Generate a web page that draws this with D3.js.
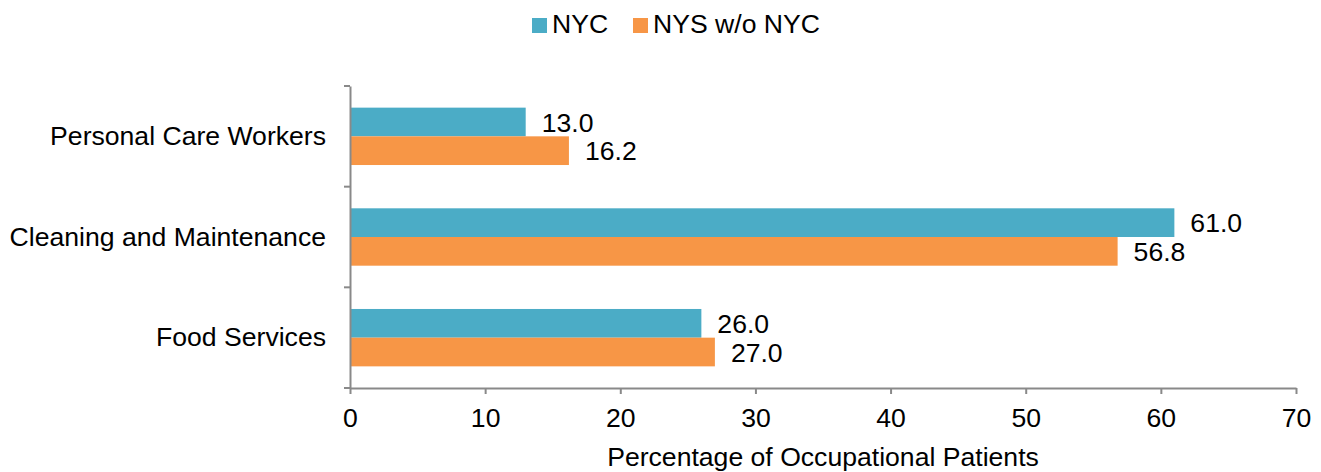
<!DOCTYPE html>
<html>
<head>
<meta charset="utf-8">
<script src="https://cdn.jsdelivr.net/npm/d3@7"></script>
<style>
  body { margin: 0; background: #fff; }
  text { font-family: "Liberation Sans", Arial, sans-serif; fill: #000; }
</style>
</head>
<body>
<div id="chart"></div>
<script>
// data
const categories = ["Personal Care Workers", "Cleaning and Maintenance", "Food Services"];
const series = ["NYC", "NYS w/o NYC"];
const nycValues = [13.0, 61.0, 26.0];
const nysValues = [16.2, 56.8, 27.0];
const xTicks = [0, 10, 20, 30, 40, 50, 60, 70];
const colors = ["#4bacc6", "#f79646"];

const width = 1321, height = 472;
const margin = {top: 86, right: 25, bottom: 84, left: 350};
const fs = "26.6px";

const svg = d3.select("#chart").append("svg")
    .attr("width", width)
    .attr("height", height);

const x = d3.scaleLinear()
    .domain([0, 70])
    .range([margin.left, width - margin.right]);

const y0 = d3.scaleBand()
    .domain(categories)
    .range([margin.top, height - margin.bottom])
    .paddingInner(0.43)
    .paddingOuter(0.215);

const y1 = d3.scaleBand()
    .domain(series)
    .range([0, y0.bandwidth()]);

const rows = categories.map((c, i) => ({
    cat: c,
    vals: [nycValues[i], nysValues[i]].map((v, j) => ({key: series[j], value: v, color: colors[j]}))
}));

// bars
const groups = svg.append("g").selectAll("g")
    .data(rows)
    .join("g")
        .attr("transform", d => "translate(0," + y0(d.cat) + ")");

groups.selectAll("rect")
    .data(d => d.vals)
    .join("rect")
        .attr("x", x(0))
        .attr("y", d => y1(d.key))
        .attr("width", d => x(d.value) - x(0))
        .attr("height", y1.bandwidth())
        .attr("fill", d => d.color);

groups.selectAll("text")
    .data(d => d.vals)
    .join("text")
        .attr("x", d => x(d.value) + 16)
        .attr("y", d => y1(d.key) + y1.bandwidth() / 2)
        .attr("dy", "0.36em")
        .style("font-size", fs)
        .text(d => d.value.toFixed(1));

// x axis
const axisColor = "#898989";
const xAxis = svg.append("g")
    .attr("transform", "translate(0," + (height - margin.bottom) + ")")
    .call(d3.axisBottom(x).tickValues(xTicks).tickSize(6).tickSizeOuter(0).tickPadding(14));
xAxis.select(".domain").attr("stroke", axisColor).attr("stroke-width", 2);
xAxis.selectAll(".tick line").attr("stroke", axisColor).attr("stroke-width", 2);
xAxis.selectAll(".tick text")
    .style("font-size", fs)
    .style("font-family", "'Liberation Sans', Arial, sans-serif")
    .attr("fill", "#000");

// y axis: labels at band centres, tick marks at band boundaries
const yAxis = svg.append("g")
    .attr("transform", "translate(" + margin.left + ",0)")
    .call(d3.axisLeft(y0).tickSize(0).tickPadding(24));
yAxis.select(".domain").attr("stroke", axisColor).attr("stroke-width", 2);
yAxis.selectAll(".tick text")
    .style("font-size", fs)
    .style("font-family", "'Liberation Sans', Arial, sans-serif")
    .attr("fill", "#000");

const step = y0.step();
const bounds = d3.range(categories.length + 1).map(i => margin.top + i * step);
yAxis.append("g").selectAll("line")
    .data(bounds)
    .join("line")
        .attr("x1", -6)
        .attr("x2", 0)
        .attr("y1", d => d)
        .attr("y2", d => d)
        .attr("stroke", axisColor)
        .attr("stroke-width", 2);

// axis title
svg.append("text")
    .attr("x", (x.range()[0] + x.range()[1]) / 2)
    .attr("y", 466)
    .attr("text-anchor", "middle")
    .style("font-size", fs)
    .text("Percentage of Occupational Patients");

// legend
const legendPos = [532, 633];
const legend = svg.append("g").selectAll("g")
    .data(series)
    .join("g")
        .attr("transform", (d, i) => "translate(" + legendPos[i] + ",0)");
legend.append("rect")
    .attr("x", 0)
    .attr("y", 18)
    .attr("width", 15)
    .attr("height", 15)
    .attr("fill", (d, i) => colors[i]);
legend.append("text")
    .attr("x", 20)
    .attr("y", 33)
    .style("font-size", fs)
    .text(d => d);
</script>
</body>
</html>
